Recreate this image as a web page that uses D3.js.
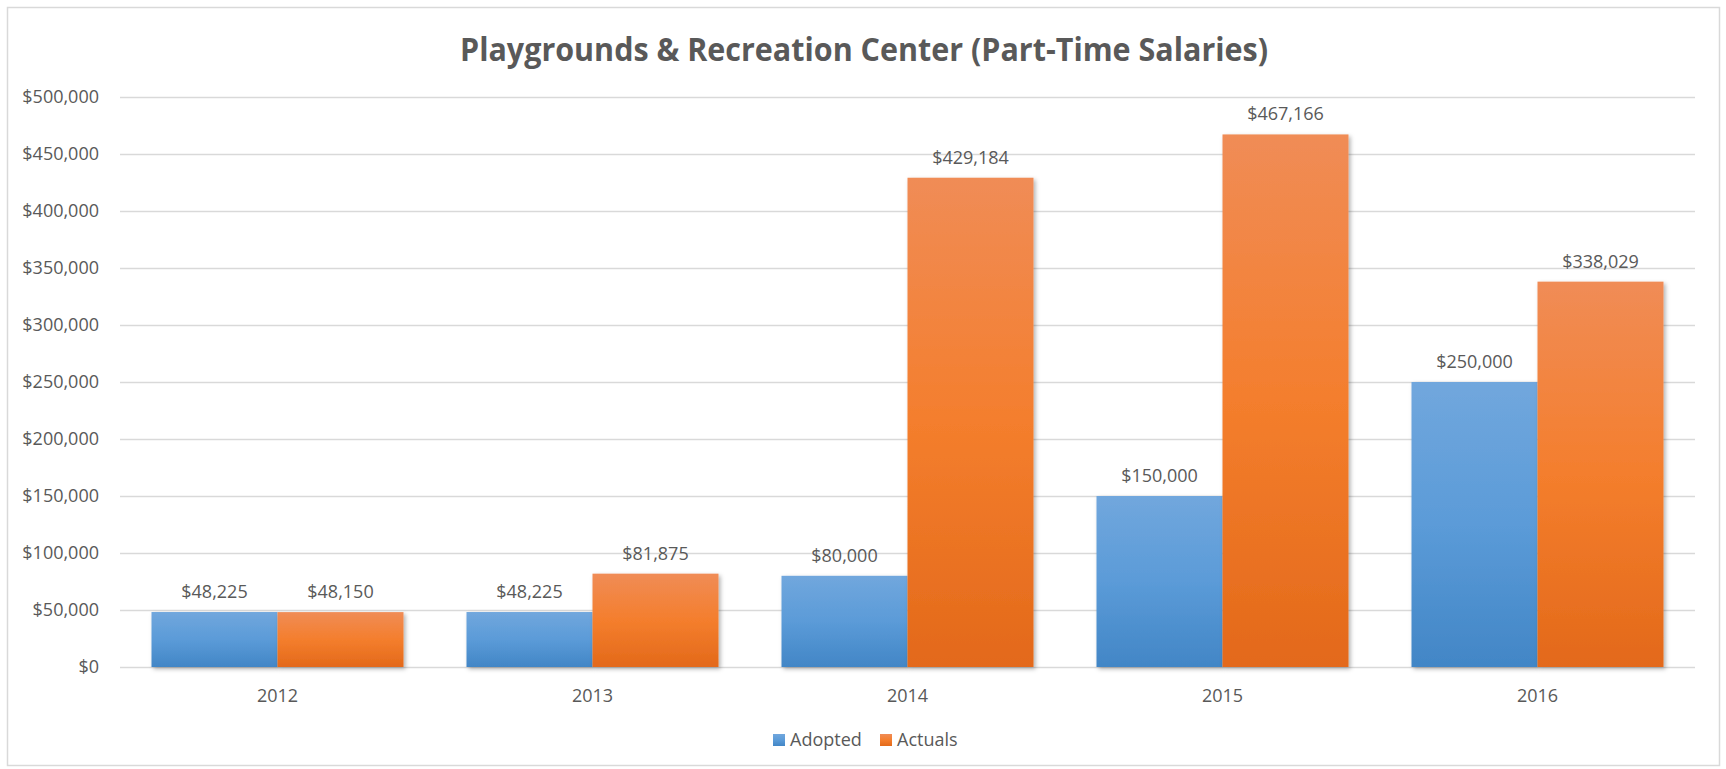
<!DOCTYPE html>
<html>
<head>
<meta charset="utf-8">
<script src="https://cdn.jsdelivr.net/npm/d3@7"></script>
<style>
  html, body { margin: 0; padding: 0; background: #fff; }
  svg text { font-family: "Open Sans", "Liberation Sans", sans-serif; fill: #595959; }
</style>
</head>
<body>
<div id="chart"></div>
<script>
const years = ["2012", "2013", "2014", "2015", "2016"];
const seriesNames = ["Adopted", "Actuals"];
const adopted = [48225, 48225, 80000, 150000, 250000];
const actuals = [48150, 81875, 429184, 467166, 338029];
const yTicks = [0, 50000, 100000, 150000, 200000, 250000, 300000, 350000, 400000, 450000, 500000];
const titleText = "Playgrounds & Recreation Center (Part-Time Salaries)";

const size = { width: 1726, height: 769 };
const margin = { top: 97, right: 31, bottom: 102, left: 120 };
const innerW = size.width - margin.left - margin.right;
const innerH = size.height - margin.top - margin.bottom;
const fontSize = 18;

const svg = d3.select("#chart")
  .append("svg")
  .attr("width", size.width)
  .attr("height", size.height);

const defs = svg.append("defs");

// excel style vertical gradients
const gradients = [
  { id: "grad-0", stops: ["#71a7dd", "#5b9bd8", "#4286c6"] },
  { id: "grad-1", stops: ["#f08c56", "#f47e2d", "#e3691a"] }
];
gradients.forEach((g) => {
  const lg = defs.append("linearGradient")
    .attr("id", g.id)
    .attr("x1", 0).attr("y1", 0).attr("x2", 0).attr("y2", 1);
  lg.append("stop").attr("offset", "0%").attr("stop-color", g.stops[0]);
  lg.append("stop").attr("offset", "50%").attr("stop-color", g.stops[1]);
  lg.append("stop").attr("offset", "100%").attr("stop-color", g.stops[2]);
});

const shadow = defs.append("filter")
  .attr("id", "shadow")
  .attr("x", "-10%").attr("y", "-10%")
  .attr("width", "130%").attr("height", "130%");
shadow.append("feDropShadow")
  .attr("dx", 2).attr("dy", 2)
  .attr("stdDeviation", 2)
  .attr("flood-color", "#000")
  .attr("flood-opacity", 0.3);

// chart border
svg.append("rect")
  .attr("x", 7.5).attr("y", 7.5)
  .attr("width", 1712).attr("height", 758)
  .attr("fill", "#fff")
  .attr("stroke", "#d9d9d9")
  .attr("stroke-width", 1.5);

// title, squeezed to Calibri-like width
const title = svg.append("text")
  .attr("x", 864)
  .attr("y", 61)
  .attr("text-anchor", "middle")
  .attr("font-size", 32)
  .attr("font-weight", "bold")
  .text(titleText);
const tw = title.node().getComputedTextLength();
if (tw > 808) title.attr("textLength", 808).attr("lengthAdjust", "spacingAndGlyphs");

const chartGroup = svg.append("g")
  .attr("transform", `translate(${margin.left},${margin.top})`);

const x0 = d3.scaleBand().domain(years).range([0, innerW]).paddingInner(0.2).paddingOuter(0.1);
const x1 = d3.scaleBand().domain(seriesNames).range([0, x0.bandwidth()]);
const yScale = d3.scaleLinear().domain([0, 500000]).range([innerH, 0]);

// gridlines
const yGrid = d3.axisLeft(yScale).tickValues(yTicks).tickSize(-innerW).tickFormat("");
chartGroup.append("g")
  .call(yGrid)
  .call((g) => g.select(".domain").remove())
  .call((g) => g.selectAll("line").attr("stroke", "#d9d9d9").attr("stroke-width", 1.5));

// y axis labels
const fmt = (d) => "$" + d3.format(",.0f")(d);
chartGroup.append("g")
  .call(d3.axisLeft(yScale).tickValues(yTicks).tickSize(0).tickPadding(21).tickFormat(fmt))
  .call((g) => g.select(".domain").remove())
  .call((g) => g.selectAll("text")
    .attr("font-size", fontSize)
    .attr("fill", "#595959")
    .style("font-family", "'Open Sans', sans-serif"));

// x axis labels
chartGroup.append("g")
  .attr("transform", `translate(0,${innerH})`)
  .call(d3.axisBottom(x0).tickSize(0).tickPadding(22))
  .call((g) => g.select(".domain").remove())
  .call((g) => g.selectAll("text")
    .attr("font-size", fontSize)
    .attr("fill", "#595959")
    .style("font-family", "'Open Sans', sans-serif"));

const rows = years.map((y, i) => ({
  year: y,
  values: [
    { key: "Adopted", idx: 0, value: adopted[i] },
    { key: "Actuals", idx: 1, value: actuals[i] }
  ]
}));

const groups = chartGroup.selectAll(".grp")
  .data(rows)
  .join("g")
  .attr("class", "grp")
  .attr("transform", (d) => `translate(${x0(d.year)},0)`);

groups.selectAll("rect")
  .data((d) => d.values)
  .join("rect")
  .attr("x", (d) => x1(d.key))
  .attr("y", (d) => yScale(d.value))
  .attr("width", x1.bandwidth())
  .attr("height", (d) => innerH - yScale(d.value))
  .attr("fill", (d) => `url(#grad-${d.idx})`)
  .attr("filter", "url(#shadow)");

groups.selectAll(".lbl")
  .data((d) => d.values)
  .join("text")
  .attr("class", "lbl")
  .attr("x", (d) => x1(d.key) + x1.bandwidth() / 2)
  .attr("y", (d) => yScale(d.value) - 14)
  .attr("text-anchor", "middle")
  .attr("font-size", fontSize)
  .text((d) => fmt(d.value));

// legend
const legend = svg.append("g").attr("transform", "translate(773,734)");
const legendItems = [
  { name: "Adopted", idx: 0, x: 0 },
  { name: "Actuals", idx: 1, x: 107 }
];
legendItems.forEach((it) => {
  legend.append("rect")
    .attr("x", it.x).attr("y", 0)
    .attr("width", 12).attr("height", 12)
    .attr("fill", `url(#grad-${it.idx})`);
  legend.append("text")
    .attr("x", it.x + 17)
    .attr("y", 12)
    .attr("font-size", fontSize)
    .text(it.name);
});
</script>
</body>
</html>
